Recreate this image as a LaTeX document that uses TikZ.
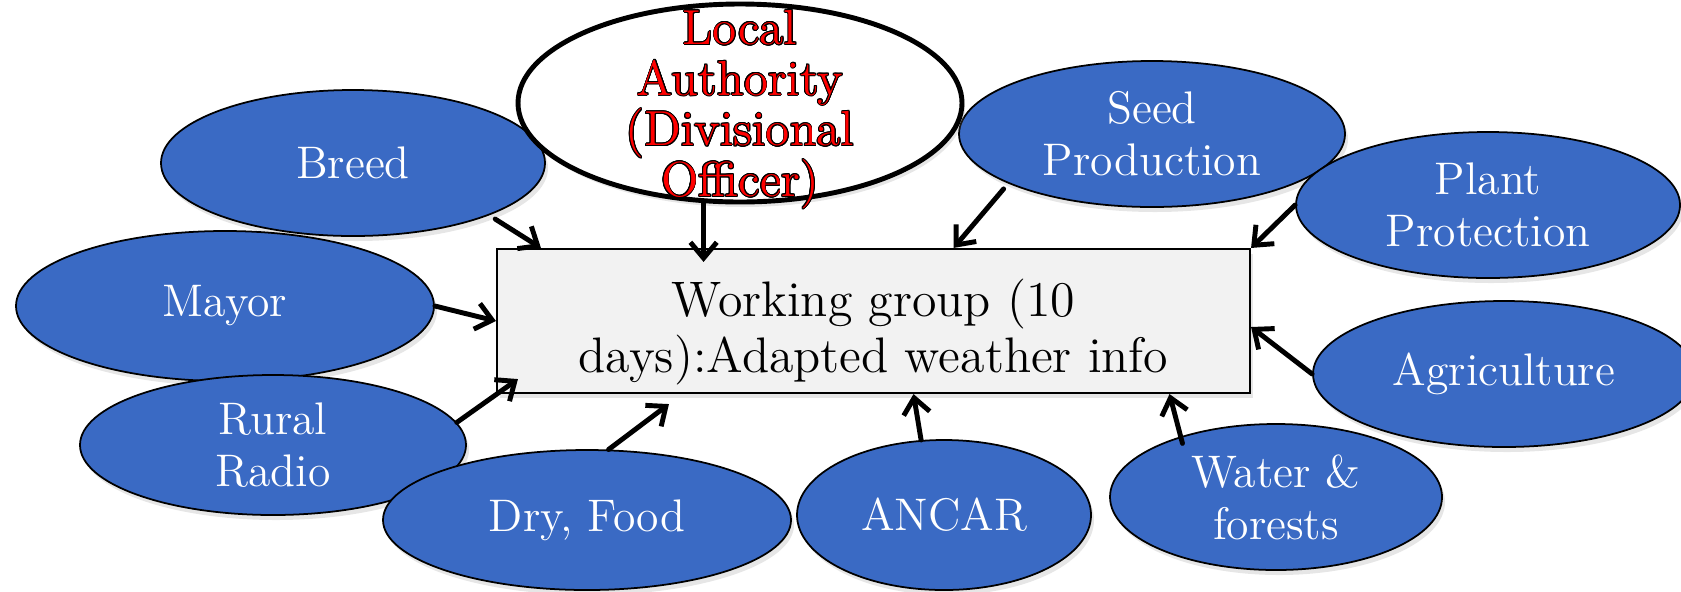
\documentclass[tikz,border=0pt]{standalone}
\usepackage{contour}
\usetikzlibrary{shapes.geometric,arrows.meta,shadows}
\contourlength{0.25pt}
\contournumber{16}
\definecolor{ellblue}{RGB}{58,106,196}
\definecolor{boxgray}{RGB}{242,242,242}
\tikzset{
  actor/.style={ellipse, draw=black, line width=0.5pt, fill=ellblue, text=white, inner sep=0pt, align=center,
    font=\fontsize{13}{14.8}\selectfont, drop shadow={opacity=0.2, shadow xshift=0.03, shadow yshift=-0.05}},
  authority/.style={ellipse, draw=black, line width=1.4pt, fill=white, inner sep=0pt,
    drop shadow={opacity=0.2, shadow xshift=0.03, shadow yshift=-0.05}},
  wgbox/.style={rectangle, draw=black, line width=0.6pt, fill=boxgray, inner sep=0pt,
    drop shadow={opacity=0.2, shadow xshift=0.03, shadow yshift=-0.05}},
  arr/.style={-{Straight Barb[length=4.5pt,width=7.5pt]}, line width=1.4pt, line cap=round}
}
\begin{document}
\begin{tikzpicture}
			\useasboundingbox (0,0) rectangle (16.81,-5.91);
			\node[actor, minimum width=3.84cm, minimum height=1.46cm] (breed) at (3.53,-1.63) {Breed};
			\node[actor, minimum width=3.86cm, minimum height=1.46cm] (seed) at (11.52,-1.34) {Seed\\Production};
			\node[authority, minimum width=4.44cm, minimum height=1.98cm] (la) at (7.40,-1.03) {};
			\node[align=center, inner sep=0pt, font=\fontsize{14}{14.4}\selectfont] (latext) at (7.40,-1.10)
				{\contour{black}{\textcolor{red}{Local}}\\\contour{black}{\textcolor{red}{Authority}}\\\contour{black}{\textcolor{red}{(Divisional}}\\\contour{black}{\textcolor{red}{Officer)}}};
			\node[actor, minimum width=3.84cm, minimum height=1.46cm] (plant) at (14.88,-2.05) {Plant\\Protection};
			\node[actor, minimum width=4.18cm, minimum height=1.50cm] (mayor) at (2.25,-3.06) {Mayor};
			\node[actor, minimum width=3.86cm, minimum height=1.40cm] (rural) at (2.73,-4.45) {Rural\\Radio};
			\node[actor, minimum width=4.08cm, minimum height=1.40cm] (dry) at (5.87,-5.20) {Dry, Food};
			\node[actor, minimum width=2.94cm, minimum height=1.50cm] (ancar) at (9.44,-5.15) {ANCAR};
			\node[actor, minimum width=3.32cm, minimum height=1.46cm] (water) at (12.76,-4.97) {Water \&\\forests};
			\node[actor, minimum width=3.82cm, minimum height=1.46cm] (agri) at (15.04,-3.74) {Agriculture};
			\node[wgbox, minimum width=7.53cm, minimum height=1.44cm] (wg) at (8.735,-3.21) {};
			\node[align=center, inner sep=0pt, font=\fontsize{14.2}{15.9}\selectfont] (wgtext) at (8.735,-3.32)
				{Working group (10\\days):Adapted weather info};
			% arrows into the working group
			\draw[arr, shorten <=2pt] (breed.-21) -- ([xshift=0.45cm]wg.north west);
			\draw[arr] (la.-110) -- ([yshift=-0.14cm]wg.north -| la.-110);
			\draw[arr, shorten <=2pt] (seed.-161) -- ([xshift=0.8cm]wg.north);
			\draw[arr] (plant.west) -- (wg.north east);
			\draw[arr] (mayor.east) -- (wg.west);
			\draw[arr] (rural.7) -- ([shift={(0.22,0.15)}]wg.south west);
			\draw[arr] (dry.73) -- ([shift={(1.73,-0.1)}]wg.south west);
			\draw[arr] (ancar.107) -- ([xshift=0.4cm]wg.south);
			\draw[arr] ([shift={(0.08,-0.05)}]water.150) -- ([xshift=2.96cm]wg.south);
			\draw[arr] (agri.west) -- ([yshift=-0.06cm]wg.east);
		\end{tikzpicture}
\end{document}
